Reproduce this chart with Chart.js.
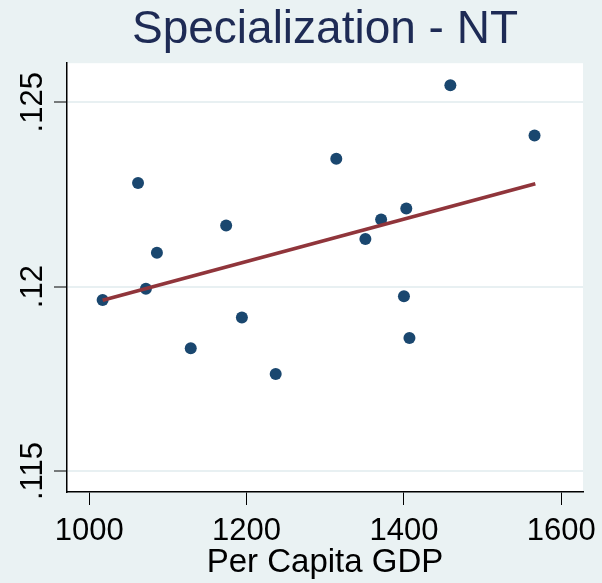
<!DOCTYPE html>
<html>
<head>
<meta charset="utf-8">
<script src="https://cdn.jsdelivr.net/npm/chart.js@4/dist/chart.umd.min.js"></script>
<style>
  html, body { margin: 0; padding: 0; background: #eaf2f3; }
  #wrap { width: 602px; height: 583px; }
</style>
</head>
<body>
<div id="wrap"><canvas id="specChart" width="602" height="583"></canvas></div>
<script>
(() => {
  const gdp = [1017, 1062, 1072, 1086, 1129, 1174, 1194, 1237, 1314, 1351, 1371, 1400, 1403, 1407, 1459, 1566];
  const specialization = [0.11964, 0.12281, 0.11994, 0.12092, 0.11833, 0.12166, 0.11916, 0.11763,
                          0.12347, 0.12129, 0.12182, 0.11974, 0.12212, 0.11861, 0.12546, 0.1241];
  const fitX = [1017, 1567];
  const fitY = [0.11963, 0.12279];
  const xTicks = [1000, 1200, 1400, 1600];
  const yTicks = [0.115, 0.12, 0.125];
  const yTickLabels = ['.115', '.12', '.125'];

  const navy = '#1a476f';
  const maroon = '#90353b';
  const font = '"Liberation Sans", Arial, Helvetica, sans-serif';

  // white plot region on the light background
  const plotBg = {
    id: 'plotBg',
    beforeDraw(chart) {
      const { ctx, chartArea: a } = chart;
      ctx.save();
      ctx.fillStyle = '#eaf2f3';
      ctx.fillRect(0, 0, chart.width, chart.height);
      ctx.fillStyle = '#ffffff';
      ctx.fillRect(a.left, a.top, a.right - a.left, a.bottom - a.top);
      ctx.restore();
    }
  };

  // Stata-style vertical y tick labels
  const yLabels = {
    id: 'yLabels',
    afterDraw(chart) {
      const { ctx } = chart;
      const y = chart.scales.y;
      ctx.save();
      ctx.fillStyle = '#000';
      ctx.font = '31px ' + font;
      ctx.textAlign = 'center';
      ctx.textBaseline = 'alphabetic';
      yTicks.forEach((v, i) => {
        ctx.save();
        ctx.translate(42, y.getPixelForValue(v));
        ctx.rotate(-Math.PI / 2);
        ctx.fillText(yTickLabels[i], 0, 0);
        ctx.restore();
      });
      ctx.restore();
    }
  };

  const ctx = document.getElementById('specChart').getContext('2d');
  new Chart(ctx, {
    data: {
      datasets: [
        {
          type: 'line',
          data: fitX.map((x, i) => ({ x, y: fitY[i] })),
          borderColor: maroon,
          borderWidth: 3.8,
          pointRadius: 0,
          fill: false,
          order: 0
        },
        {
          type: 'scatter',
          data: gdp.map((x, i) => ({ x, y: specialization[i] })),
          backgroundColor: navy,
          borderWidth: 0,
          pointRadius: 6,
          order: 1
        }
      ]
    },
    options: {
      responsive: false,
      animation: false,
      layout: { padding: { left: 0, right: 19, top: 0, bottom: 0 } },
      scales: {
        x: {
          type: 'linear',
          min: 971.7,
          max: 1627.6,
          afterBuildTicks: s => { s.ticks = xTicks.map(v => ({ value: v })); },
          afterFit: s => { s.height = 91; s.paddingLeft = 0; s.paddingRight = 0; },
          ticks: { color: '#000', font: { family: font, size: 31 }, padding: 8, maxRotation: 0, callback: v => String(v) },
          grid: { drawOnChartArea: false, drawTicks: true, tickLength: 13, tickColor: '#000', tickWidth: 1 },
          border: { color: '#000', width: 1.5 },
          title: { display: true, text: 'Per Capita GDP', color: '#000', font: { family: font, size: 33 }, padding: { top: 0, bottom: 0 } }
        },
        y: {
          type: 'linear',
          min: 0.11443,
          max: 0.12606,
          afterBuildTicks: s => { s.ticks = yTicks.map(v => ({ value: v })); },
          afterFit: s => { s.width = 67; s.paddingTop = 0; s.paddingBottom = 0; },
          ticks: { display: false },
          grid: { color: '#e8f0f2', lineWidth: 2, drawTicks: true, tickLength: 13, tickColor: '#000', tickWidth: 1 },
          border: { color: '#000', width: 1.5 }
        }
      },
      plugins: {
        legend: { display: false },
        tooltip: { enabled: false },
        title: {
          display: true,
          text: 'Specialization - NT',
          fullSize: false,
          color: '#1e2b55',
          font: { family: font, size: 46, weight: 'normal' },
          padding: { top: 3, bottom: 5 }
        }
      }
    },
    plugins: [plotBg, yLabels]
  });
})();
</script>
</body>
</html>
